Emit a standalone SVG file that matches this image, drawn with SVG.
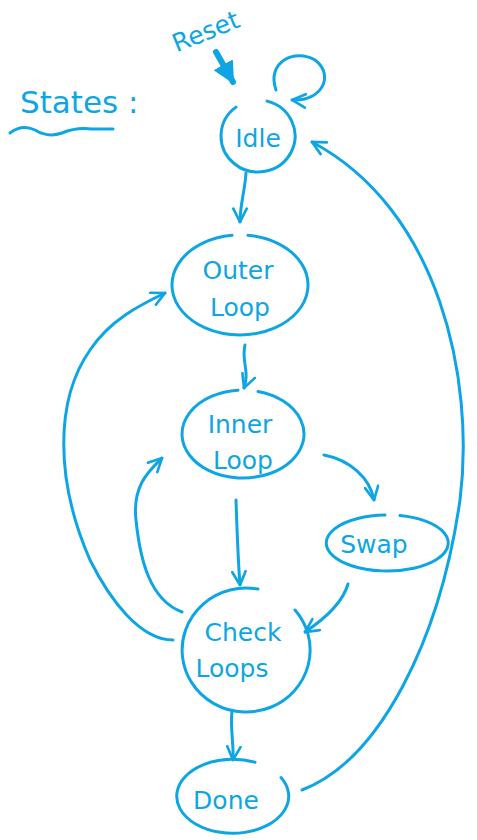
<svg xmlns="http://www.w3.org/2000/svg" width="477" height="840" viewBox="0 0 477 840">
<defs>
<style>
.s{fill:none;stroke:#0ea5e4;stroke-width:3;stroke-linecap:round;stroke-linejoin:round}
.t{fill:#0ea5e4;font-family:"DejaVu Sans","Liberation Sans",sans-serif;font-size:25px;text-anchor:middle}
</style>
<marker id="a" viewBox="0 0 12 12" refX="11" refY="6" markerWidth="16" markerHeight="16" markerUnits="userSpaceOnUse" orient="auto">
<path d="M1,1 L11,6 L1,11" fill="none" stroke="#0ea5e4" stroke-width="2" stroke-linecap="round"/>
</marker>
<marker id="b" viewBox="0 0 10 10" refX="9" refY="5" markerWidth="22" markerHeight="22" markerUnits="userSpaceOnUse" orient="auto">
<path d="M0,0 L10,5 L0,10 Z" fill="#0ea5e4"/>
</marker>
</defs>
<rect width="477" height="840" fill="#fff"/>
<g id="title">
<text x="20" y="113" fill="#0ea5e4" font-family="DejaVu Sans,sans-serif" font-size="31">States :</text>
<path class="s" d="M10 133 Q 22 124 35 130 Q 48 138 62 133 Q 76 127 92 129 L 113 129"/>
</g>
<g id="reset">
<text x="206" y="40" class="t" font-size="27" transform="rotate(-22 206 32)">Reset</text>
<path d="M216 52 L233 82" fill="none" stroke="#0ea5e4" stroke-width="6" stroke-linecap="round" marker-end="url(#b)"/>
</g>
<g id="idle">
<path class="s" d="M267 101.1 A 37 36 0 1 1 236 107.1"/>
<text x="258" y="147" class="t">Idle</text>
</g>
<g id="outer">
<path class="s" d="M248 235.3 A 68 50 0 1 1 232 235.3"/>
<text x="238" y="279" class="t">Outer</text>
<text x="240" y="316" class="t">Loop</text>
</g>
<g id="inner">
<path class="s" d="M258 391.4 A 61 44 0 1 1 238 390.2"/>
<text x="240" y="433" class="t">Inner</text>
<text x="243" y="469" class="t">Loop</text>
</g>
<g id="swap">
<path class="s" d="M400 515.6 A 61 28 0 1 1 385 515"/>
<text x="374" y="553" class="t">Swap</text>
</g>
<g id="check">
<path class="s" d="M295 610 A 64 62 0 1 1 258 589.1"/>
<text x="243" y="641" class="t">Check</text>
<text x="232" y="677" class="t">Loops</text>
</g>
<g id="done">
<path class="s" d="M281 777.5 A 56 37 0 1 1 255 762.3"/>
<text x="226" y="809" class="t">Done</text>
</g>
<g id="connectors">
<path class="s" d="M276 90 C 266 62, 295 48, 315 60 C 335 75, 322 102, 292 100" marker-end="url(#a)"/>
<path class="s" d="M246 173 C 245 190, 240 205, 240 222" marker-end="url(#a)"/>
<path class="s" d="M245 345 C 241 360, 250 372, 244 388" marker-end="url(#a)"/>
<path class="s" d="M236 500 C 237 530, 238 560, 240 585" marker-end="url(#a)"/>
<path class="s" d="M324 455 C 350 460, 370 478, 374 500" marker-end="url(#a)"/>
<path class="s" d="M348 584 C 342 605, 320 622, 305 632" marker-end="url(#a)"/>
<path class="s" d="M182 612 C 150 600, 140 560, 136 520 C 132 485, 150 470, 162 458" marker-end="url(#a)"/>
<path class="s" d="M173 640 C 140 640, 110 600, 90 560 C 55 480, 55 400, 90 350 C 110 320, 140 305, 165 293" marker-end="url(#a)"/>
<path class="s" d="M232 711 C 230 728, 234 745, 233 760" marker-end="url(#a)"/>
<path class="s" d="M302 790 C 380 760, 440 640, 460 500 C 475 380, 440 210, 312 142" marker-end="url(#a)"/>
</g>
</svg>
